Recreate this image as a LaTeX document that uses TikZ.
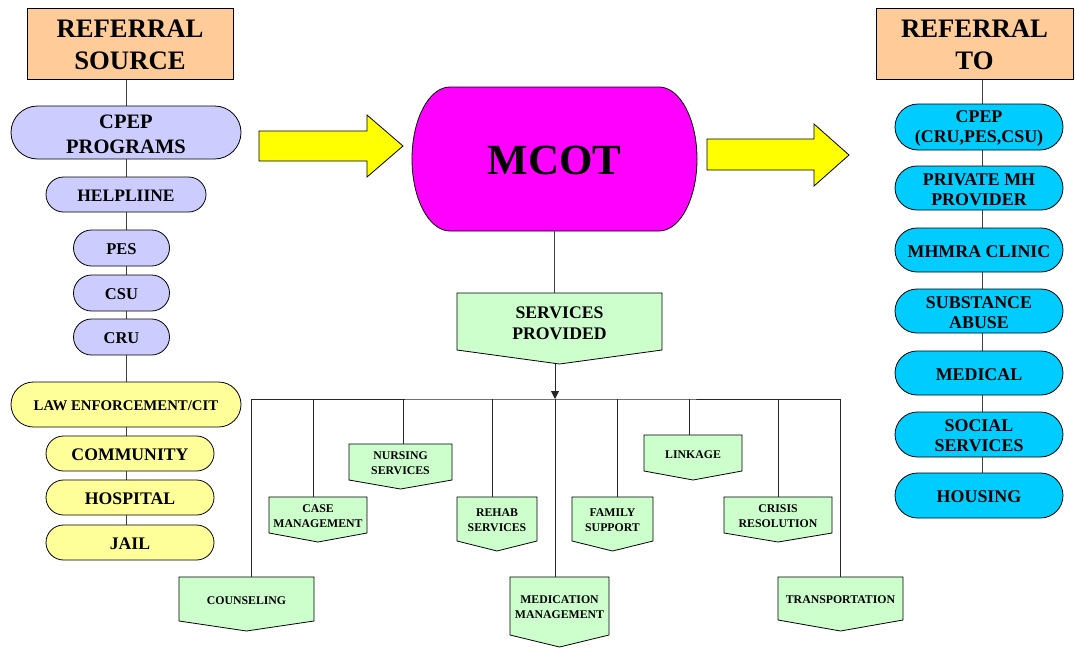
\documentclass[tikz,border=0pt]{standalone}
\usepackage{fontspec}
\setmainfont{Liberation Serif}
\usetikzlibrary{shapes.misc,backgrounds,arrows.meta}
\definecolor{peach}{HTML}{FFCC99}
\definecolor{lav}{HTML}{CCCCFF}
\definecolor{lyel}{HTML}{FFFF99}
\definecolor{mag}{HTML}{FF00FF}
\definecolor{ayel}{HTML}{FFFF00}
\definecolor{sgreen}{HTML}{CCFFCC}
\definecolor{cyn}{HTML}{00CCFF}
\definecolor{conn}{HTML}{404040}
% text lowered slightly inside its shape, as in the reference
\newcommand\oneln[1]{\raisebox{-1.5pt}[\height][\depth]{#1}}
\newcommand\twoln[2]{\raisebox{-1.5pt}[\height][\depth]{\vbox{\halign{\hfil##\hfil\cr#1\cr#2\cr}}}}
\tikzset{
  outline/.style={draw=black, line width=0.8pt},
  hdr/.style={outline, fill=peach, inner sep=0pt,
    font=\fontsize{26.7}{32}\selectfont\bfseries},
  pill/.style={outline, rounded rectangle, inner sep=1pt},
  lavpill/.style={pill, fill=lav},
  yelpill/.style={pill, fill=lyel},
  cynpill/.style={pill, fill=cyn, minimum width=170pt,
    font=\fontsize{17.9}{20}\selectfont\bfseries},
  svctext/.style={draw=none, inner sep=0pt,
    font=\fontsize{11.8}{14.8}\selectfont\bfseries},
  svcbig/.style={font=\fontsize{17.7}{21}\selectfont\bfseries},
  svcshape/.style={outline, fill=sgreen},
  bigarrow/.style={outline, fill=ayel},
  connector/.style={draw=conn, line width=0.8pt},
  busline/.style={draw=black!85, line width=0.8pt},
}
\newcommand\svcbox[8][]{%
  \node[svctext, minimum width={#4-#3}, minimum height={#6-#5},#1] (#2) at ({(#3+#4)/2},{(#5+#6)/2}) {#8};
  \begin{scope}[on background layer]
    \filldraw[svcshape] (#3,#5) -- (#4,#5) -- (#4,#6) -- ({(#3+#4)/2},#7) -- (#3,#6) -- cycle;
  \end{scope}}
\begin{document}
\begin{tikzpicture}[x=1pt,y=-1pt]
\useasboundingbox (0,0) rectangle (1075,648);

% ---------- left column ----------
\node[hdr, minimum width=206pt, minimum height=71pt] (rs) at (130,43.5) {\twoln{REFERRAL}{SOURCE}};
\node[lavpill, minimum width=232pt, minimum height=53pt,
  font=\fontsize{20.5}{25}\selectfont\bfseries] (cpep) at (126,132.5) {\twoln{CPEP}{PROGRAMS}};
\node[lavpill, minimum width=162pt, minimum height=35pt,
  font=\fontsize{17.5}{19}\selectfont\bfseries] (help) at (126,194.5) {\oneln{HELPLIINE}};
\node[lavpill, minimum width=98pt, minimum height=36pt,
  font=\fontsize{16.5}{19}\selectfont\bfseries] (pes) at (121.5,248) {\oneln{PES}};
\node[lavpill, minimum width=98pt, minimum height=36pt,
  font=\fontsize{16.5}{19}\selectfont\bfseries] (csu) at (121.5,293) {\oneln{CSU}};
\node[lavpill, minimum width=98pt, minimum height=36pt,
  font=\fontsize{16.5}{19}\selectfont\bfseries] (cru) at (121.5,337) {\oneln{CRU}};
\node[yelpill, minimum width=232pt, minimum height=45pt,
  font=\fontsize{14.8}{17}\selectfont\bfseries] (law) at (126,404.5) {\oneln{LAW ENFORCEMENT/CIT}};
\node[yelpill, minimum width=170pt, minimum height=35pt,
  font=\fontsize{17.7}{20}\selectfont\bfseries] (com) at (130,453.5) {\oneln{COMMUNITY}};
\node[yelpill, minimum width=170pt, minimum height=35pt,
  font=\fontsize{17.7}{20}\selectfont\bfseries] (hos) at (130,497.5) {\oneln{HOSPITAL}};
\node[yelpill, minimum width=170pt, minimum height=35pt,
  font=\fontsize{17.7}{20}\selectfont\bfseries] (jail) at (130,542.5) {\oneln{JAIL}};
\begin{scope}[on background layer]
  \draw[connector] ([xshift=-4pt]rs.south) -- ([xshift=-4pt]rs.south |- jail.north);
\end{scope}

% ---------- right column ----------
\node[hdr, minimum width=197pt, minimum height=71pt] (rt) at (974.5,43.5) {\twoln{REFERRAL}{TO}};
\node[cynpill, minimum height=46pt] (cp2) at (979,127) {\twoln{CPEP}{(CRU,PES,CSU)}};
\node[cynpill, minimum height=44pt] (pmh) at (979,188) {\twoln{PRIVATE MH}{PROVIDER}};
\node[cynpill, minimum height=44pt] (mhm) at (979,250) {\oneln{MHMRA CLINIC}};
\node[cynpill, minimum height=44pt] (sub) at (979,311) {\twoln{SUBSTANCE}{ABUSE}};
\node[cynpill, minimum height=44pt] (mdl) at (979,373) {\oneln{MEDICAL}};
\node[cynpill, minimum height=45pt] (soc) at (979,434.5) {\twoln{SOCIAL}{SERVICES}};
\node[cynpill, minimum height=45pt] (hou) at (979,495.5) {\oneln{HOUSING}};
\begin{scope}[on background layer]
  \draw[connector] ([xshift=3pt]rt.south -| cp2.north) -- ([xshift=3pt]hou.north);
\end{scope}

% ---------- MCOT ----------
\filldraw[outline, fill=mag] (450,87) -- (659,87)
  arc[start angle=90, end angle=-90, x radius=38pt, y radius=72pt]
  -- (450,231)
  arc[start angle=270, end angle=90, x radius=38pt, y radius=72pt] -- cycle;
\node[draw=none, minimum width=285pt, minimum height=144pt, inner sep=0pt,
  font=\fontsize{43}{48}\selectfont\bfseries] (mcot) at (554.5,159) {\oneln{MCOT}};

% big yellow arrows
\filldraw[bigarrow] (259,131) -- (367,131) -- (367,115) -- (403,146) -- (367,177) -- (367,161) -- (259,161) -- cycle;
\filldraw[bigarrow] (707,139) -- (814,139) -- (814,124) -- (849,155) -- (814,186) -- (814,170) -- (707,170) -- cycle;

% ---------- services ----------
\svcbox[svcbig]{svp}{457}{662}{293}{350}{364}{\twoln{SERVICES}{PROVIDED}}
\svcbox{cou}{179}{314}{577}{621}{631}{\oneln{COUNSELING}}
\svcbox{cas}{269}{367}{497}{533}{542}{\twoln{CASE}{MANAGEMENT}}
\svcbox{nur}{349}{452}{444}{480}{489}{\twoln{NURSING}{SERVICES}}
\svcbox{reh}{457}{537}{497}{541}{551}{\twoln{REHAB}{SERVICES}}
\svcbox{fam}{572}{653}{497}{541}{551}{\twoln{FAMILY}{SUPPORT}}
\svcbox{med}{510}{609}{577}{635}{647}{\twoln{MEDICATION}{MANAGEMENT}}
\svcbox{lin}{644}{742}{435}{471}{480}{\oneln{LINKAGE}}
\svcbox{cri}{724}{832}{497}{533}{542}{\twoln{CRISIS}{RESOLUTION}}
\svcbox{tra}{778}{903}{577}{620}{631}{\oneln{TRANSPORTATION}}

\coordinate (svtip) at (555,364);
\coordinate (bus) at (555,399);
\draw[connector] (mcot.south) -- (mcot.south |- svp.north);
\draw[busline, -{Triangle[length=8pt,width=8pt]}] (svtip) -- (bus);
\draw[busline] ([xshift=4.5pt]cou.north) |- (bus) -| ([xshift=-0.5pt]tra.north);
\draw[busline] ([xshift=-5pt]cas.north) -- ([xshift=-5pt]cas.north |- bus);
\draw[busline] ([xshift=2.5pt]nur.north) -- ([xshift=2.5pt]nur.north |- bus);
\draw[busline] ([xshift=-5pt]reh.north) -- ([xshift=-5pt]reh.north |- bus);
\draw[busline] (bus) -- (bus |- med.north);
\draw[busline] ([xshift=4.5pt]fam.north) -- ([xshift=4.5pt]fam.north |- bus);
\draw[busline] ([xshift=-4pt]lin.north) -- ([xshift=-4pt]lin.north |- bus);
\draw[busline] (cri.north) -- (cri.north |- bus);
\end{tikzpicture}
\end{document}
